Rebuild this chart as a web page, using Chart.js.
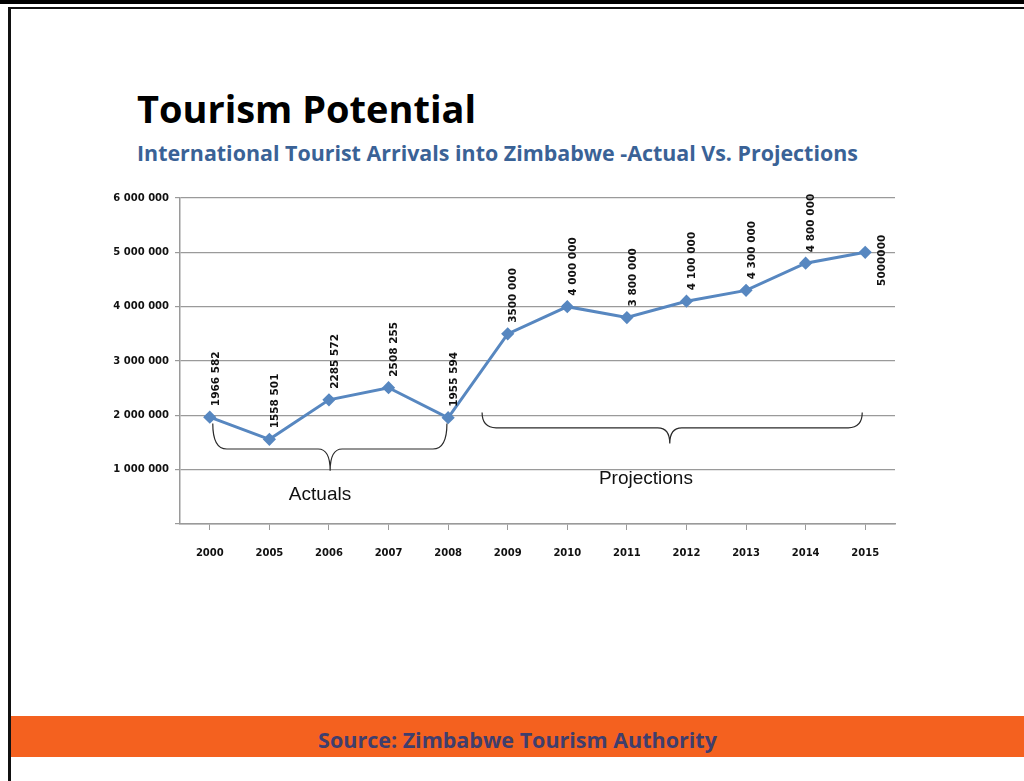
<!DOCTYPE html>
<html>
<head>
<meta charset="utf-8">
<script src="https://cdn.jsdelivr.net/npm/chart.js@4.4.1/dist/chart.umd.min.js"></script>
<style>
  html, body { margin: 0; padding: 0; background: #fff; }
  body { width: 1024px; height: 781px; position: relative; overflow: hidden; font-family: 'Open Sans', sans-serif; }
  .bar-top { position: absolute; left: 0; top: 0; width: 1024px; height: 4px; background: #000; }
  .frame-top { position: absolute; left: 8px; top: 7px; width: 1016px; height: 2px; background: #111; }
  .frame-left { position: absolute; left: 8px; top: 7px; width: 3px; height: 774px; background: #111; }
  .title { position: absolute; left: 137px; top: 90px; font-weight: 700; font-size: 38px; color: #000; white-space: nowrap; line-height: 1; }
  .subtitle { position: absolute; left: 137px; top: 140px; font-weight: 700; font-size: 19px; color: #3a6296; white-space: nowrap; line-height: 1.2; }
  .chartbox { position: absolute; left: 100px; top: 186px; width: 805px; height: 384px; }
  .footer { position: absolute; left: 11px; top: 716px; width: 1013px; height: 41px; background: #f4611f; }
  .footer span { position: absolute; left: 0; right: 0; top: 3px; line-height: 41px; text-align: center; font-weight: 700; font-size: 20px; color: #3f3e6d; white-space: nowrap; }
</style>
</head>
<body>
<div class="bar-top"></div>
<div class="frame-top"></div>
<div class="frame-left"></div>
<div class="title" id="title">Tourism Potential</div>
<div class="subtitle" id="subtitle">International Tourist Arrivals into Zimbabwe -Actual Vs. Projections</div>
<div class="chartbox"><canvas id="c"></canvas></div>
<div class="footer"><span id="foot">Source: Zimbabwe Tourism Authority</span></div>
<script>
// ---- data ----
const years = ['2000','2005','2006','2007','2008','2009','2010','2011','2012','2013','2014','2015'];
const arrivals = [1966582, 1558501, 2285572, 2508255, 1955594, 3500000, 4000000, 3800000, 4100000, 4300000, 4800000, 5000000];
const pointLabels = ['1966 582','1558 501','2285 572','2508 255','1955 594','3500 000','4 000 000','3 800 000','4 100 000','4 300 000','4 800 000','5000000'];
const yTickValues = [0, 1000000, 2000000, 3000000, 4000000, 5000000, 6000000];

// braces (category index / value coordinates)
const braceNames  = ['Actuals', 'Projections'];
const braceStart  = [0.05, 4.57];
const braceEnd    = [3.98, 10.95];
const braceTip    = [2.02, 7.72];
const braceTop    = [1850000, 2050000];
const braceMid    = [1380000, 1770000];
const braceBottom = [980000, 1480000];
const braceTextX  = [1.85, 7.32];
const braceTextY  = [530000, 840000];

// fit header/footer texts to reference widths
function fitWidth(id, target) {
  const el = document.getElementById(id);
  const fs = parseFloat(getComputedStyle(el).fontSize);
  const range = document.createRange(); range.selectNodeContents(el);
  const w = range.getBoundingClientRect().width;
  el.style.fontSize = (fs * target / w).toFixed(2) + 'px';
}
fitWidth('title', 339);
fitWidth('subtitle', 721);
fitWidth('foot', 399);

function fmt(v) {
  if (v === 0) return '';
  return String(v).replace(/\B(?=(\d{3})+(?!\d))/g, ' ');
}

const lineColor = '#5787c0';

const overlay = {
  id: 'overlay',
  afterDatasetsDraw(chart) {
    const ctx = chart.ctx;
    const xs = chart.scales.x, ys = chart.scales.y;
    const meta = chart.getDatasetMeta(0);
    ctx.save();
    ctx.fillStyle = '#111';
    ctx.font = 'bold 10.5px "DejaVu Sans"';
    ctx.textBaseline = 'middle';
    meta.data.forEach((pt, i) => {
      ctx.save();
      if (i === meta.data.length - 1) {
        ctx.translate(pt.x + 17, pt.y + 8);
        ctx.rotate(-Math.PI / 2);
        ctx.textAlign = 'center';
      } else {
        ctx.translate(pt.x + 6, pt.y - 11);
        ctx.rotate(-Math.PI / 2);
        ctx.textAlign = 'left';
      }
      ctx.fillText(pointLabels[i], 0, 0);
      ctx.restore();
    });
    // braces
    ctx.strokeStyle = '#2a2a2a';
    ctx.lineWidth = 1.2;
    for (let b = 0; b < braceNames.length; b++) {
      const x1 = xs.getPixelForValue(braceStart[b]);
      const x2 = xs.getPixelForValue(braceEnd[b]);
      const xt = xs.getPixelForValue(braceTip[b]);
      const yT = ys.getPixelForValue(braceTop[b]);
      const yM = ys.getPixelForValue(braceMid[b]);
      const yB = ys.getPixelForValue(braceBottom[b]);
      const r = Math.min(14, (yM - yT));
      const d = 12;
      ctx.beginPath();
      ctx.moveTo(x1, yT);
      ctx.quadraticCurveTo(x1, yM, x1 + r, yM);
      ctx.lineTo(xt - d, yM);
      ctx.quadraticCurveTo(xt, yM, xt, yB);
      ctx.quadraticCurveTo(xt, yM, xt + d, yM);
      ctx.lineTo(x2 - r, yM);
      ctx.quadraticCurveTo(x2, yM, x2, yT);
      ctx.stroke();
      ctx.fillStyle = '#111';
      ctx.font = '19px "Liberation Sans Narrow", "Liberation Sans", sans-serif';
      ctx.textAlign = 'center';
      ctx.textBaseline = 'middle';
      ctx.fillText(braceNames[b], xs.getPixelForValue(braceTextX[b]), ys.getPixelForValue(braceTextY[b]));
    }
    ctx.restore();
  }
};

new Chart(document.getElementById('c'), {
  type: 'line',
  data: {
    labels: years,
    datasets: [{
      data: arrivals,
      borderColor: lineColor,
      backgroundColor: lineColor,
      borderWidth: 3,
      pointStyle: 'rectRot',
      pointRadius: 4.5,
      pointHoverRadius: 4.5,
      tension: 0,
      fill: false
    }]
  },
  options: {
    responsive: true,
    maintainAspectRatio: false,
    animation: false,
    layout: { padding: { top: 10, right: 10, left: 0, bottom: 0 } },
    plugins: { legend: { display: false }, tooltip: { enabled: false } },
    scales: {
      x: {
        offset: true,
        grid: { drawOnChartArea: false, drawTicks: true, tickLength: 6, color: '#9a9a9a' },
        border: { color: '#9a9a9a', width: 1.5 },
        ticks: { color: '#111', font: { family: 'DejaVu Sans', weight: 'bold', size: 10 }, padding: 17 },
        afterFit(s) { s.height = 46; }
      },
      y: {
        min: 0, max: 6000000,
        afterBuildTicks(s) { s.ticks = yTickValues.map(v => ({ value: v })); },
        grid: { color: '#9a9a9a', tickLength: 5, lineWidth: 1.2 },
        border: { color: '#9a9a9a', width: 1.5 },
        ticks: { color: '#111', font: { family: 'DejaVu Sans', weight: 'bold', size: 10 }, padding: 6, callback: (v) => fmt(v) },
        afterFit(s) { s.width = 80; }
      }
    }
  },
  plugins: [overlay]
});
</script>
</body>
</html>
